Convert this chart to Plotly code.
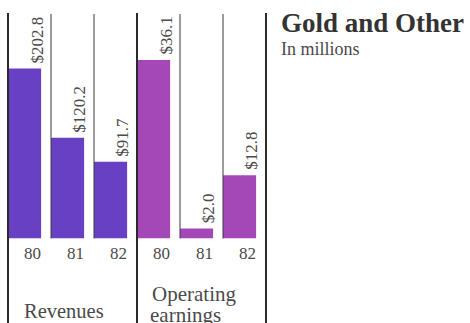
import plotly.graph_objects as go

# ---- data ----
years = ["80", "81", "82"]
revenues = [202.8, 120.2, 91.7]
earnings = [36.1, 2.0, 12.8]
rev_labels = ["$202.8", "$120.2", "$91.7"]
earn_labels = ["$36.1", "$2.0", "$12.8"]
rev_title = "Revenues"
op_title_lines = ["Operating", "earnings"]
title = "Gold and Other"
subtitle = "In millions"

# ---- layout constants (pixels) ----
W, H = 470, 323
COL = 43
X_REV, X_OP, X_END = 8, 137, 266
BASE = 238.5           # pixel y of the zero line
TOP = 0                # pixel y of the top of the axes
REV_SCALE = 170 / 202.8
OP_SCALE = 178.5 / 36.1
BAR_W = 0.77
FONT = "Liberation Serif"
REV_COLOR = "#6840c4"
OP_COLOR = "#a448b8"
TXT = "#4a4a4a"

def px(x):
    return x / W

def py(y):
    return 1 - y / H

fig = go.Figure()
fig.add_trace(go.Bar(x=years, y=revenues, xaxis="x", yaxis="y",
                     marker=dict(color=REV_COLOR, line=dict(width=0)),
                     width=BAR_W, offset=-0.5, hoverinfo="skip"))
fig.add_trace(go.Bar(x=years, y=earnings, xaxis="x2", yaxis="y2",
                     marker=dict(color=OP_COLOR, line=dict(width=0)),
                     width=BAR_W, offset=-0.5, hoverinfo="skip"))

ydom = [py(BASE), py(TOP)]
axis_common = dict(showgrid=False, zeroline=False, showticklabels=False,
                   showline=False, ticks="", fixedrange=True)
fig.update_layout(
    width=W, height=H,
    margin=dict(l=0, r=0, t=0, b=0),
    paper_bgcolor="white", plot_bgcolor="white",
    showlegend=False,
    xaxis=dict(domain=[px(X_REV), px(X_OP)], range=[-0.5, 2.5],
               type="category", anchor="y", **axis_common),
    yaxis=dict(domain=ydom, range=[0, (BASE - TOP) / REV_SCALE],
               anchor="x", **axis_common),
    xaxis2=dict(domain=[px(X_OP), px(X_END)], range=[-0.5, 2.5],
                type="category", anchor="y2", **axis_common),
    yaxis2=dict(domain=ydom, range=[0, (BASE - TOP) / OP_SCALE],
                anchor="x2", **axis_common),
)

# ---- decorative rules ----
shapes = []
for x in (X_REV, X_OP, X_END):
    shapes.append(dict(type="line", xref="paper", yref="paper",
                       x0=px(x), x1=px(x), y0=py(13), y1=py(H),
                       line=dict(color="#2a2a2a", width=2), layer="above"))
for x in (X_REV + COL, X_REV + 2 * COL, X_OP + COL, X_OP + 2 * COL):
    shapes.append(dict(type="line", xref="paper", yref="paper",
                       x0=px(x), x1=px(x), y0=py(14), y1=py(BASE),
                       line=dict(color="#3a3a3a", width=1), layer="above"))
fig.update_layout(shapes=shapes)

# ---- annotations ----
right_shift = (-0.5 + BAR_W) * COL + 1
ann = []
for xa, ya, vals, labs in (("x", "y", revenues, rev_labels),
                           ("x2", "y2", earnings, earn_labels)):
    for i, (yr, v, lab) in enumerate(zip(years, vals, labs)):
        ann.append(dict(x=i, y=v, xref=xa, yref=ya, text=lab,
                        textangle=-90, showarrow=False,
                        xanchor="right", yanchor="bottom",
                        xshift=right_shift + 6, yshift=3,
                        font=dict(family=FONT, size=17, color=TXT)))
        ann.append(dict(x=i, y=0, xref=xa, yref=ya, text=yr,
                        showarrow=False, xanchor="right", yanchor="top",
                        xshift=right_shift + 1, yshift=-3,
                        font=dict(family=FONT, size=17, color=TXT)))

ann.append(dict(x=px(22), y=py(H + 1), xref="paper", yref="paper",
                text=rev_title, showarrow=False,
                xanchor="left", yanchor="bottom", align="left",
                font=dict(family=FONT, size=20.5, color=TXT)))
ann.append(dict(x=px(150), y=py(308), xref="paper", yref="paper",
                text=op_title_lines[0], showarrow=False,
                xanchor="left", yanchor="bottom", align="left",
                font=dict(family=FONT, size=21, color=TXT)))
ann.append(dict(x=px(148), y=py(329), xref="paper", yref="paper",
                text=op_title_lines[1], showarrow=False,
                xanchor="left", yanchor="bottom", align="left",
                font=dict(family=FONT, size=21, color=TXT)))

ann.append(dict(x=px(279), y=py(6), xref="paper", yref="paper",
                text="<b>" + title + "</b>", showarrow=False,
                xanchor="left", yanchor="top",
                font=dict(family=FONT, size=27, color="#333333")))
ann.append(dict(x=px(279), y=py(37), xref="paper", yref="paper",
                text=subtitle, showarrow=False,
                xanchor="left", yanchor="top",
                font=dict(family=FONT, size=18, color=TXT)))
fig.update_layout(annotations=ann)

fig.write_html("out.html", config={"displayModeBar": False})
